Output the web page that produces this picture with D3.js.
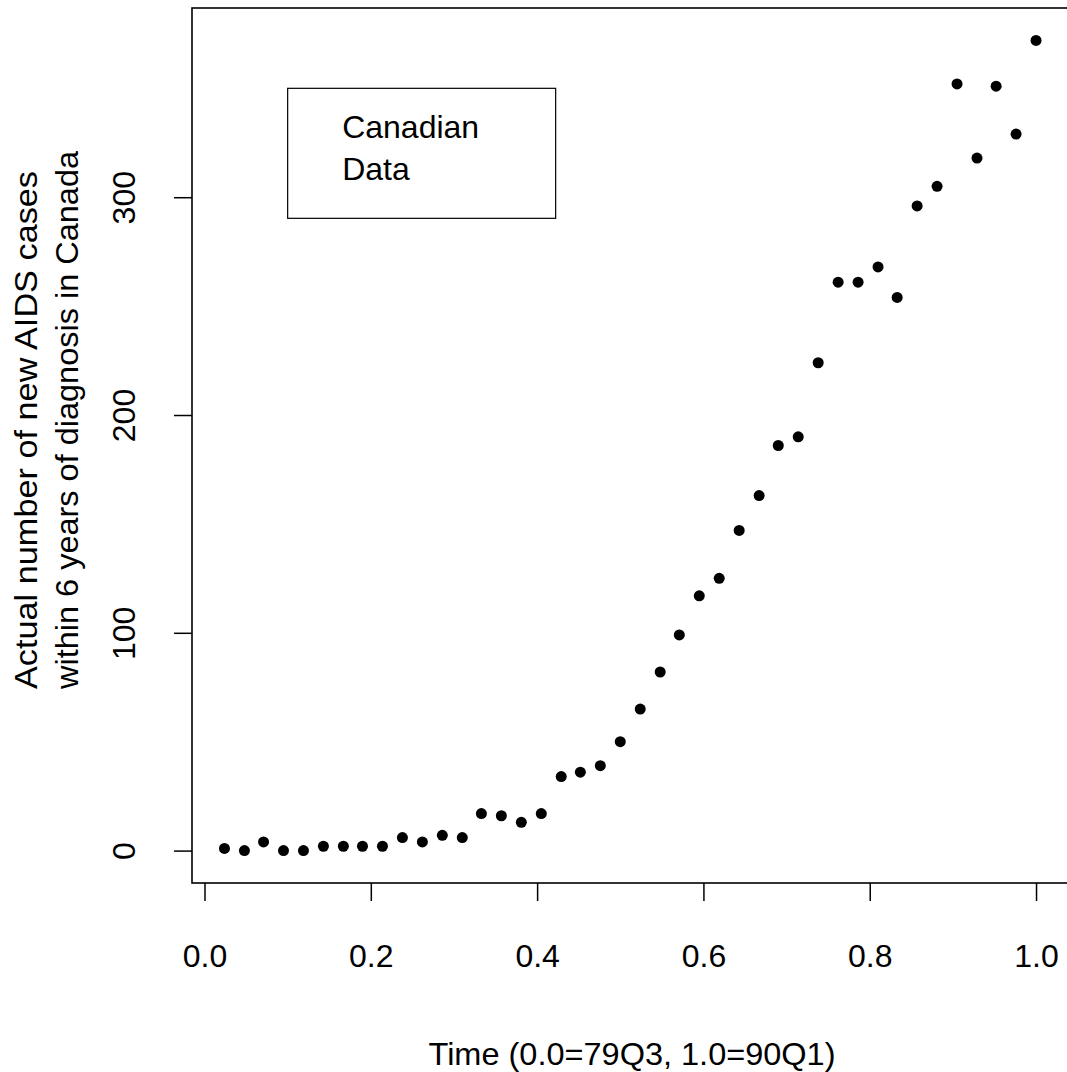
<!DOCTYPE html>
<html>
<head>
<meta charset="utf-8">
<script src="https://cdn.jsdelivr.net/npm/d3@7"></script>
<style>
body { margin: 0; background: #fff; }
svg text { font-family: "Liberation Sans", Arial, sans-serif; font-size: 32px; fill: #000; }
</style>
</head>
<body>
<svg width="1067" height="1072"></svg>
<script>
// time as fraction of the period, one point per quarter
let time_values = [
	0.024, 0.048, 0.071, 0.095, 0.119, 0.143, 0.167, 0.190, 0.214, 0.238,
	0.262, 0.286, 0.310, 0.333, 0.357, 0.381, 0.405, 0.429, 0.452, 0.476,
	0.500, 0.524, 0.548, 0.571, 0.595, 0.619, 0.643, 0.667, 0.690, 0.714,
	0.738, 0.762, 0.786, 0.810, 0.833, 0.857, 0.881, 0.905, 0.929, 0.952,
	0.976, 1.000
];
let case_counts = [
	1, 0, 4, 0, 0, 2, 2, 2, 2, 6,
	4, 7, 6, 17, 16, 13, 17, 34, 36, 39,
	50, 65, 82, 99, 117, 125, 147, 163, 186, 190,
	224, 261, 261, 268, 254, 296, 305, 352, 318, 351,
	329, 372
];
let x_ticks = [0, 0.2, 0.4, 0.6, 0.8, 1.0];
let y_ticks = [0, 100, 200, 300];
let x_label = "Time (0.0=79Q3, 1.0=90Q1)";
let y_label = ["Actual number of new AIDS cases", "within 6 years of diagnosis in Canada"];
let legend_lines = ["Canadian", "Data"];

function draw_plot() {
	// R style range: data extent plus 4% each side
	function pad_domain(values) {
		let lo = d3.min(values), hi = d3.max(values);
		let d = (hi - lo) * 0.04;
		return [lo - d, hi + d];
	}

	let svg = d3.select("svg");
	let left = 192, right = 1068.5, top = 8, bottom = 883;

	let x = d3.scaleLinear().domain(pad_domain(time_values)).range([left, right]);
	let y = d3.scaleLinear().domain(pad_domain(case_counts)).range([bottom, top]);

	// x axis
	let gx = svg.append("g")
		.attr("transform", "translate(0," + bottom + ")")
		.call(d3.axisBottom(x).tickValues(x_ticks).tickFormat(d3.format(".1f")).tickSize(18).tickSizeOuter(0));
	gx.select(".domain").remove();
	gx.selectAll(".tick line").attr("stroke", "#000").attr("stroke-width", 1.5);
	gx.selectAll(".tick text")
		.attr("y", 84)
		.attr("dy", null)
		.attr("font-size", null)
		.attr("font-family", null);

	// y axis, labels turned like R's default las=0
	let gy = svg.append("g")
		.attr("transform", "translate(" + left + ",0)")
		.call(d3.axisLeft(y).tickValues(y_ticks).tickFormat(d3.format("d")).tickSize(18).tickSizeOuter(0));
	gy.select(".domain").remove();
	gy.selectAll(".tick line").attr("stroke", "#000").attr("stroke-width", 1.5);
	gy.selectAll(".tick text")
		.attr("transform", "rotate(-90)")
		.attr("x", 0)
		.attr("y", -57)
		.attr("dy", null)
		.attr("text-anchor", "middle")
		.attr("font-size", null)
		.attr("font-family", null);

	// plot box
	svg.append("rect")
		.attr("x", left)
		.attr("y", top)
		.attr("width", right - left)
		.attr("height", bottom - top)
		.attr("fill", "none")
		.attr("stroke", "#000")
		.attr("stroke-width", 1.6);

	// points
	svg.selectAll(".pt")
		.data(time_values)
		.enter()
		.append("circle")
		.attr("class", "pt")
		.attr("cx", function(d) { return x(d); })
		.attr("cy", function(d, i) { return y(case_counts[i]); })
		.attr("r", 5.5)
		.attr("fill", "#000");

	// legend box anchored at (0.1, 350)
	let lx = x(0.1), ly = y(350);
	svg.append("rect")
		.attr("x", lx)
		.attr("y", ly)
		.attr("width", 268)
		.attr("height", 130)
		.attr("fill", "none")
		.attr("stroke", "#000")
		.attr("stroke-width", 1.2);
	svg.selectAll(".legend-text")
		.data(legend_lines)
		.enter()
		.append("text")
		.attr("class", "legend-text")
		.attr("x", lx + 54.5)
		.attr("y", function(d, i) { return ly + 50 + i * 42; })
		.text(function(d) { return d; });

	// axis titles
	svg.append("text")
		.attr("x", 632)
		.attr("y", 1065)
		.attr("text-anchor", "middle")
		.attr("textLength", 407)
		.attr("lengthAdjust", "spacingAndGlyphs")
		.text(x_label);

	// the two y title lines share their lower end, the original font runs a bit longer
	let ylab_len = [518, 538];
	svg.selectAll(".ylab")
		.data(y_label)
		.enter()
		.append("text")
		.attr("class", "ylab")
		.attr("text-anchor", "start")
		.attr("textLength", function(d, i) { return ylab_len[i]; })
		.attr("lengthAdjust", "spacingAndGlyphs")
		.attr("transform", function(d, i) { return "translate(" + (37 + i * 41) + ",689) rotate(-90)"; })
		.text(function(d) { return d; });
}

draw_plot();
</script>
</body>
</html>
